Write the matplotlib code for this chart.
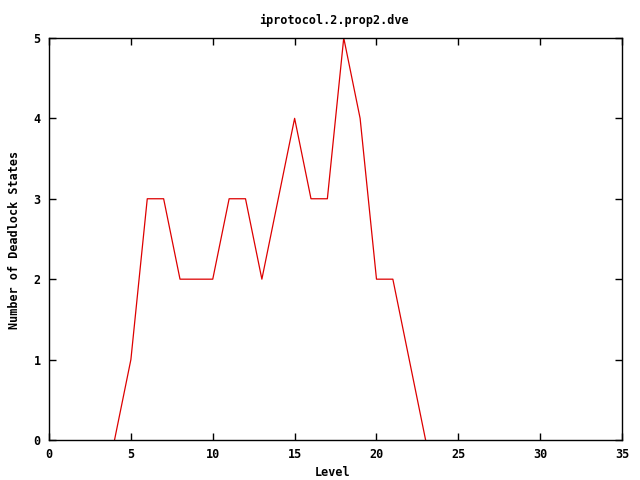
import matplotlib

matplotlib.use("Agg")
import matplotlib.pyplot as plt

# deadlock states per level
levels = [4, 5, 6, 7, 8, 9, 10, 11, 12, 13, 14, 15, 16, 17, 18, 19, 20, 21, 22, 23]
deadlocks = [0, 1, 3, 3, 2, 2, 2, 3, 3, 2, 3, 4, 3, 3, 5, 4, 2, 2, 1, 0]

x_ticks = [0, 5, 10, 15, 20, 25, 30, 35]
y_ticks = [0, 1, 2, 3, 4, 5]

FONT = dict(family="DejaVu Sans Mono", fontweight="bold", fontsize=8.5)

fig = plt.figure(figsize=(6.4, 4.8), dpi=100)
ax = fig.add_axes([0.0766, 0.0833, 0.8954, 0.8377])

ax.plot(levels, deadlocks, color="#dd0000", linewidth=0.9)

ax.set_xlim(0, 35)
ax.set_ylim(0, 5)
ax.set_xticks(x_ticks)
ax.set_yticks(y_ticks)
ax.set_xticklabels([str(t) for t in x_ticks], **FONT)
ax.set_yticklabels([str(t) for t in y_ticks], **FONT)
ax.tick_params(direction="in", top=True, right=True, length=5, width=1, pad=6)
for s in ax.spines.values():
    s.set_linewidth(1)

# gnuplot-like fixed label positions
fig.text(0.522, 0.958, "iprotocol.2.prop2.dve", ha="center", va="center", **FONT)
fig.text(0.52, 0.015, "Level", ha="center", va="center", **FONT)
fig.text(0.022, 0.5, "Number of Deadlock States", ha="center", va="center",
         rotation=90, **FONT)

fig.savefig("out.png", dpi=100)
